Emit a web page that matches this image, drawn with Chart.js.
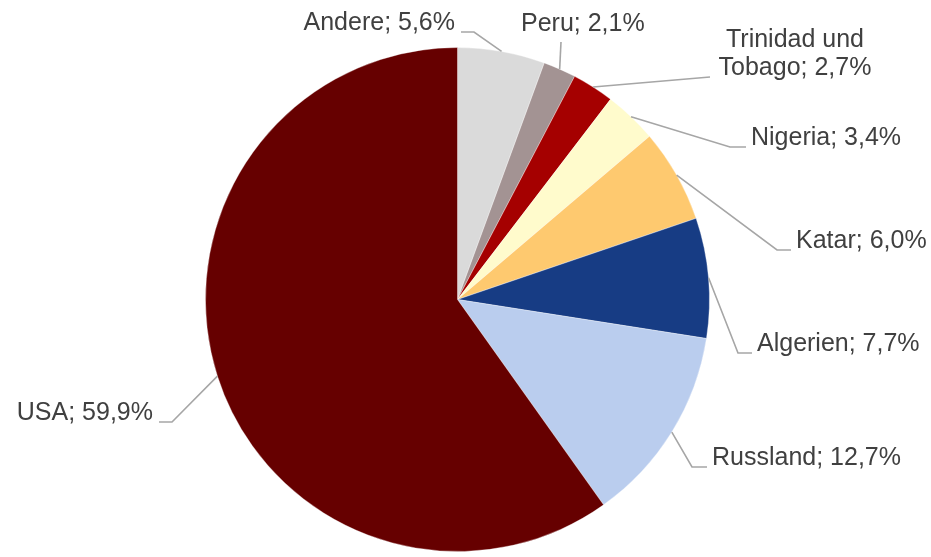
<!DOCTYPE html>
<html>
<head>
<meta charset="utf-8">
<script src="https://cdn.jsdelivr.net/npm/chart.js@4/dist/chart.umd.min.js"></script>
<style>
html,body{margin:0;padding:0;background:#fff;}
#wrap{width:931px;height:557px;}
</style>
</head>
<body>
<div id="wrap"><canvas id="pie" width="931" height="557"></canvas></div>
<script>
const countries=['Andere','Peru','Trinidad und Tobago','Nigeria','Katar','Algerien','Russland','USA'];
const shares=[5.6,2.1,2.7,3.4,6.0,7.7,12.7,59.9];
const sliceColors=['#dadada','#a39393','#a50000','#fffbcc','#fec96f','#173c84','#bacdee','#660000'];

// label text lines (split where the original wraps)
const labelLines=[
  ['Andere; 5,6%'],
  ['Peru; 2,1%'],
  ['Trinidad und','Tobago; 2,7%'],
  ['Nigeria; 3,4%'],
  ['Katar; 6,0%'],
  ['Algerien; 7,7%'],
  ['Russland; 12,7%'],
  ['USA; 59,9%']
];

// where each label sits and how its leader bends
const labelLayout=[
  {elbow:[474,32],end:[461,32],text:[455,30],align:'right'},
  {elbow:[561,42],end:null,text:[521,31],align:'left'},
  {elbow:[710,77],end:null,text:[795,47],align:'center'},
  {elbow:[730,147],end:[746,147],text:[751,145],align:'left'},
  {elbow:[777,250],end:[791,250],text:[796,248],align:'left'},
  {elbow:[738,353],end:[752,353],text:[757,351],align:'left'},
  {elbow:[692,467],end:[707,467],text:[712,465],align:'left'},
  {elbow:[172,422],end:[159,422],text:[153,420],align:'right'}
];

const leaderLabels={
  id:'leaderLabels',
  afterDraw(chart){
    const ctx=chart.ctx;
    const arcs=chart.getDatasetMeta(0).data;
    ctx.save();
    ctx.font='25px "Liberation Sans", Arial, sans-serif';
    ctx.textBaseline='alphabetic';
    arcs.forEach((arc,i)=>{
      const p=arc.getProps(['x','y','startAngle','endAngle','outerRadius'],true);
      const mid=(p.startAngle+p.endAngle)/2;
      const sx=p.x+Math.cos(mid)*p.outerRadius;
      const sy=p.y+Math.sin(mid)*p.outerRadius;
      const lay=labelLayout[i];
      ctx.strokeStyle='#a6a6a6';
      ctx.lineWidth=1.6;
      ctx.beginPath();
      ctx.moveTo(sx,sy);
      ctx.lineTo(lay.elbow[0],lay.elbow[1]);
      if(lay.end)ctx.lineTo(lay.end[0],lay.end[1]);
      ctx.stroke();
      ctx.fillStyle='#404040';
      ctx.textAlign=lay.align;
      labelLines[i].forEach((line,k)=>{
        ctx.fillText(line,lay.text[0],lay.text[1]+k*28);
      });
    });
    ctx.restore();
  }
};

new Chart(document.getElementById('pie'),{
  type:'pie',
  data:{
    labels:countries,
    datasets:[{
      data:shares,
      backgroundColor:sliceColors,
      borderColor:'rgba(255,255,255,0.35)',
      borderWidth:1
    }]
  },
  options:{
    responsive:false,
    animation:false,
    layout:{padding:{left:205,right:221,top:46,bottom:4}},
    plugins:{
      legend:{display:false},
      tooltip:{enabled:false}
    }
  },
  plugins:[leaderLabels]
});
</script>
</body>
</html>
